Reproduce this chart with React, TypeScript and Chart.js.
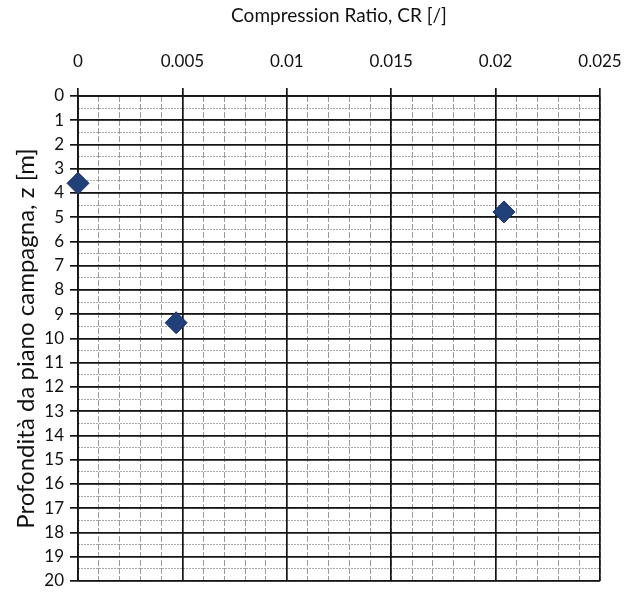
import React, { useEffect, useRef } from "react";
import { Chart, registerables } from "chart.js";

Chart.register(...registerables);

const seriesName = "CR";
const crValues = [0.0, 0.0047, 0.0204];
const depthValues = [3.6, 9.35, 4.78];
const xTickValues = [0, 0.005, 0.01, 0.015, 0.02, 0.025];
const xTickLabels = ["0", "0.005", "0.01", "0.015", "0.02", "0.025"];
const yTickValues = Array.from({ length: 21 }, (_, i) => i);
const xTitle = "Compression Ratio, CR [/]";
const yTitle = "Profondità da piano campagna, z [m]";

const FONT = "Lato";

export default function App() {
  const ref = useRef<HTMLCanvasElement | null>(null);

  useEffect(() => {
    document.body.style.margin = "0";
    const canvas = ref.current;
    if (!canvas) return;
    const points = crValues.map((x, i) => ({ x, y: depthValues[i] }));
    const chart = new Chart(canvas, {
      type: "scatter",
      data: {
        datasets: [
          {
            label: seriesName,
            data: points,
            clip: false,
            pointStyle: "rectRot",
            pointRadius: 11,
            pointHoverRadius: 11,
            backgroundColor: "#213f78",
            borderColor: "#1a3263",
            borderWidth: 1,
          },
        ],
      },
      options: {
        responsive: false,
        animation: false,
        layout: { padding: { left: 0, top: 0, right: 32, bottom: 7 } },
        plugins: {
          legend: { display: false },
          tooltip: { enabled: false },
        },
        scales: {
          x: {
            type: "linear",
            position: "top",
            min: 0,
            max: 0.025,
            afterBuildTicks: (s: any) => {
              s.ticks = xTickValues.map((v) => ({ value: v }));
            },
            afterFit: (s: any) => {
              s.height = 96;
              s.paddingLeft = 0;
              s.paddingRight = 0;
            },
            ticks: {
              padding: 16,
              color: "#111",
              font: { family: FONT, size: 17 },
              callback: (_v: any, i: number) => xTickLabels[i],
              maxRotation: 0,
              autoSkip: false,
            },
            grid: {
              color: "#141414",
              lineWidth: 1.7,
              tickLength: 8,
              z: -1,
            },
            border: { display: true, color: "#141414", width: 1.7 },
            title: {
              display: true,
              text: xTitle,
              color: "#111",
              font: { family: FONT, size: 19 },
              padding: { top: 4, bottom: 0 },
            },
          },
          x2: {
            type: "linear",
            position: "top",
            min: 0,
            max: 0.025,
            ticks: { display: false, stepSize: 0.001 },
            grid: {
              color: "#9a9a9a",
              lineWidth: 1,
              drawTicks: false,
              z: -2,
            },
            border: { display: false, dash: [6, 2] },
          },
          y: {
            type: "linear",
            position: "left",
            reverse: true,
            min: 0,
            max: 20,
            afterBuildTicks: (s: any) => {
              s.ticks = yTickValues.map((v) => ({ value: v }));
            },
            afterFit: (s: any) => {
              s.width = 78;
              s.paddingTop = 0;
              s.paddingBottom = 0;
            },
            ticks: {
              padding: 6,
              color: "#111",
              font: { family: FONT, size: 17 },
              autoSkip: false,
            },
            grid: {
              color: "#141414",
              lineWidth: 1.7,
              tickLength: 8,
              z: -1,
            },
            border: { display: true, color: "#141414", width: 1.7 },
            title: {
              display: true,
              text: yTitle,
              color: "#111",
              font: { family: FONT, size: 24 },
              padding: { top: 12, bottom: 0 },
            },
          },
          y2: {
            type: "linear",
            position: "left",
            reverse: true,
            min: 0,
            max: 20,
            ticks: { display: false, stepSize: 0.5 },
            grid: {
              color: "#a8a8a8",
              lineWidth: 1,
              drawTicks: false,
              z: -2,
            },
            border: { display: false, dash: [2, 1] },
          },
        },
      },
    } as any);
    return () => chart.destroy();
  }, []);

  return <canvas ref={ref} width={632} height={593} style={{ display: "block" }} />;
}
